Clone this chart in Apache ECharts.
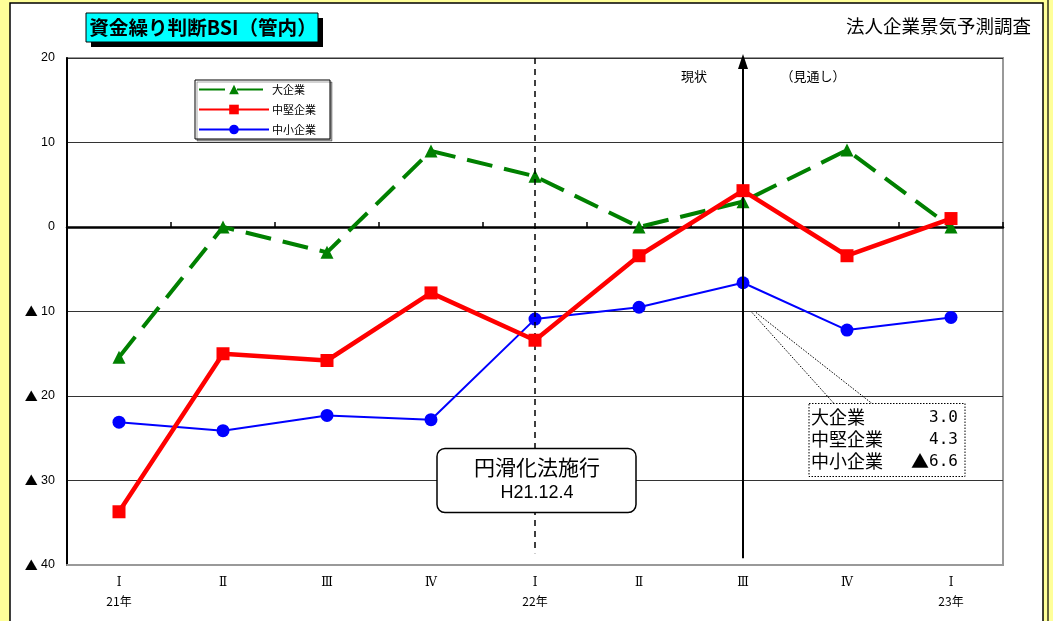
<!DOCTYPE html>
<html>
<head>
<meta charset="utf-8">
<script src="https://cdn.jsdelivr.net/npm/echarts@6/dist/echarts.min.js"></script>
<style>
  html, body { margin: 0; padding: 0; background: #FFFF99; }
  #chart { width: 1053px; height: 621px; }
</style>
</head>
<body>
<div id="chart"></div>
<script>
// Quarters on the x axis (unique keys), with the roman numeral and year shown under each
const categories = ['21-1', '21-2', '21-3', '21-4', '22-1', '22-2', '22-3', '22-4', '23-1'];
const quarterLabels = ['Ⅰ', 'Ⅱ', 'Ⅲ', 'Ⅳ', 'Ⅰ', 'Ⅱ', 'Ⅲ', 'Ⅳ', 'Ⅰ'];
const yearLabels = ['21年', '', '', '', '22年', '', '', '', '23年'];

// BSI values by company size
const largeCorp = [-15.4, 0.0, -3.0, 9.0, 6.0, 0.0, 3.0, 9.1, 0.0];
const midCorp = [-33.7, -15.0, -15.8, -7.8, -13.4, -3.4, 4.3, -3.4, 1.0];
const smallCorp = [-23.1, -24.1, -22.3, -22.8, -10.9, -9.5, -6.6, -12.2, -10.7];

const seriesNames = ['大企業', '中堅企業', '中小企業'];

// Value axis range
const yMin = -40;
const yMax = 20;
const yStep = 10;

// Event marker and current-quarter marker
const eventIndex = 4;
const currentIndex = 6;

const jp = '"Noto Sans CJK JP", sans-serif';
const latin = '"Liberation Sans", "Noto Sans CJK JP", sans-serif';

// Negative values are written with a leading triangle
function bsiRich(v) {
  const s = Math.abs(v).toFixed(1);
  return v < 0 ? '{t|▲}{n|' + s + '}' : '{n|' + s + '}';
}

const chart = echarts.init(document.getElementById('chart'), null, { renderer: 'canvas' });

const option = {
  backgroundColor: '#FFFF99',
  animation: false,
  grid: {
    left: 67, right: 50, top: 58, bottom: 56,
    show: true, backgroundColor: 'transparent',
    borderColor: '#999999', borderWidth: 2
  },
  legend: {
    orient: 'vertical',
    left: 195, top: 80,
    data: seriesNames,
    itemWidth: 70, itemHeight: 12, itemGap: 9,
    padding: [4, 14, 4, 3],
    backgroundColor: '#ffffff',
    borderColor: '#000000', borderWidth: 1,
    shadowColor: 'rgba(0,0,0,0.35)', shadowOffsetX: 2, shadowOffsetY: 2, shadowBlur: 0,
    textStyle: { fontFamily: jp, fontSize: 11, color: '#000', padding: [0, 0, 0, -2] },
    selectedMode: false
  },
  xAxis: [
    {
      type: 'category',
      data: categories,
      boundaryGap: true,
      position: 'bottom',
      axisLine: { onZero: false, lineStyle: { color: '#999999', width: 2 } },
      axisTick: { show: false },
      axisLabel: {
        margin: 8,
        interval: 0,
        formatter: function (v, i) {
          const y = yearLabels[i];
          return '{q|' + quarterLabels[i] + '}' + (y ? '\n{y|' + y + '}' : '');
        },
        rich: {
          q: { fontFamily: '"DejaVu Serif", serif', fontSize: 12, color: '#000', lineHeight: 19 },
          y: { fontFamily: jp, fontSize: 12, color: '#000', lineHeight: 19 }
        }
      },
      splitLine: { show: false }
    },
    {
      // zero line with quarter ticks
      type: 'category',
      data: categories,
      boundaryGap: true,
      position: 'bottom',
      axisLine: { onZero: true, lineStyle: { color: '#000000', width: 2.5 } },
      axisTick: { show: true, inside: true, length: 5, lineStyle: { color: '#000', width: 1.5 } },
      axisLabel: { show: false },
      splitLine: { show: false }
    }
  ],
  yAxis: {
    type: 'value',
    min: yMin, max: yMax, interval: yStep,
    axisLine: { show: true, onZero: false, lineStyle: { color: '#000000', width: 2 } },
    axisTick: { show: false },
    axisLabel: {
      margin: 12,
      color: '#000',
      formatter: function (v) {
        return v < 0 ? '{t|▲} {n|' + Math.abs(v) + '}' : '{n|' + v + '}';
      },
      rich: {
        t: { fontFamily: jp, fontSize: 13, color: '#000' },
        n: { fontFamily: latin, fontSize: 12.5, color: '#000' }
      }
    },
    splitLine: { show: true, lineStyle: { color: '#333333', width: 1 } }
  },
  series: [
    {
      name: seriesNames[0],
      type: 'line',
      data: largeCorp,
      z: 4,
      symbol: 'triangle', symbolSize: 13,
      itemStyle: { color: '#008000' },
      lineStyle: { color: '#008000', width: 4, type: [26, 12] },
      markLine: {
        silent: true,
        symbol: 'none',
        label: { show: false },
        lineStyle: { color: '#000', width: 1.5, type: [6, 5] },
        data: [[
          { coord: [eventIndex, yMax] },
          { coord: [eventIndex, -38.6] }
        ]]
      }
    },
    {
      name: seriesNames[1],
      type: 'line',
      data: midCorp,
      z: 5,
      symbol: 'rect', symbolSize: 13,
      itemStyle: { color: '#FF0000' },
      lineStyle: { color: '#FF0000', width: 4.5 }
    },
    {
      name: seriesNames[2],
      type: 'line',
      data: smallCorp,
      z: 3,
      symbol: 'circle', symbolSize: 13,
      itemStyle: { color: '#0000FF' },
      lineStyle: { color: '#0000FF', width: 2 },
      markLine: {
        silent: true,
        symbol: ['none', 'triangle'],
        symbolSize: [10, 15],
        label: { show: false },
        lineStyle: { color: '#000', width: 2, type: 'solid' },
        itemStyle: { color: '#000' },
        data: [[
          { coord: [currentIndex, -39.2] },
          { coord: [currentIndex, 19.6] }
        ]]
      }
    }
  ]
};

chart.setOption(option);

// Decorations: page panel, title plate, source note, period labels and callouts
const curPt = chart.convertToPixel({ xAxisIndex: 0, yAxisIndex: 0 }, [currentIndex, -10]);
const evtPt = chart.convertToPixel({ xAxisIndex: 0, yAxisIndex: 0 }, [eventIndex, -30]);
const topPt = chart.convertToPixel({ xAxisIndex: 0, yAxisIndex: 0 }, [currentIndex, yMax]);

const boxX = curPt[0] + 66, boxY = curPt[1] + 92, boxW = 156, boxH = 73;
const rows = [
  [seriesNames[0], largeCorp[currentIndex]],
  [seriesNames[1], midCorp[currentIndex]],
  [seriesNames[2], smallCorp[currentIndex]]
];

const graphics = [
  // white page panel
  { type: 'rect', z: -100, silent: true,
    shape: { x: 10, y: 3, width: 1033, height: 640 },
    style: { fill: '#ffffff', stroke: '#000000', lineWidth: 1.5 } },
  { type: 'line', z: -100, silent: true,
    shape: { x1: 1048, y1: 0, x2: 1048, y2: 621 },
    style: { stroke: '#000000', lineWidth: 1.2 } },
  // title plate with drop shadow
  { type: 'rect', z: 10, silent: true,
    shape: { x: 91, y: 18, width: 232, height: 29 },
    style: { fill: '#000000' } },
  { type: 'rect', z: 11, silent: true,
    shape: { x: 86, y: 13, width: 232, height: 29 },
    style: { fill: '#00FFFF', stroke: '#000000', lineWidth: 1 } },
  { type: 'text', z: 12, silent: true,
    style: { x: 203, y: 28, text: '資金繰り判断BSI（管内）', align: 'center', verticalAlign: 'middle',
      font: 'bold 19.6px "Noto Sans CJK JP", sans-serif', fill: '#000' } },
  // survey name
  { type: 'text', z: 12, silent: true,
    style: { x: 1031, y: 26, text: '法人企業景気予測調査', align: 'right', verticalAlign: 'middle',
      font: '18.5px "Noto Sans CJK JP", sans-serif', fill: '#000' } },
  // period labels either side of the current quarter
  { type: 'text', z: 12, silent: true,
    style: { x: topPt[0] - 49, y: topPt[1] + 18, text: '現状', align: 'center', verticalAlign: 'middle',
      font: '13px "Noto Sans CJK JP", sans-serif', fill: '#000' } },
  { type: 'text', z: 12, silent: true,
    style: { x: topPt[0] + 70, y: topPt[1] + 18, text: '（見通し）', align: 'center', verticalAlign: 'middle',
      font: '13px "Noto Sans CJK JP", sans-serif', fill: '#000' } },
  // event box
  { type: 'rect', z: 12, silent: true,
    shape: { x: evtPt[0] - 98, y: evtPt[1] - 32, width: 199, height: 64, r: 8 },
    style: { fill: '#ffffff', stroke: '#000000', lineWidth: 1.5 } },
  { type: 'text', z: 13, silent: true,
    style: { x: evtPt[0] + 2, y: evtPt[1] - 13, text: '円滑化法施行', align: 'center', verticalAlign: 'middle',
      font: '21px "Noto Sans CJK JP", sans-serif', fill: '#000' } },
  { type: 'text', z: 13, silent: true,
    style: { x: evtPt[0] + 2, y: evtPt[1] + 13, text: 'H21.12.4', align: 'center', verticalAlign: 'middle',
      font: '18px "Liberation Sans", sans-serif', fill: '#000' } },
  // current-quarter value callout
  { type: 'line', z: 12, silent: true,
    shape: { x1: curPt[0] + 9, y1: curPt[1] + 1, x2: boxX + 25, y2: boxY },
    style: { stroke: '#000', lineWidth: 1, lineDash: [1.5, 1.5] } },
  { type: 'line', z: 12, silent: true,
    shape: { x1: curPt[0] + 13, y1: curPt[1] + 1, x2: boxX + 63, y2: boxY },
    style: { stroke: '#000', lineWidth: 1, lineDash: [1.5, 1.5] } },
  { type: 'rect', z: 12, silent: true,
    shape: { x: boxX, y: boxY, width: boxW, height: boxH },
    style: { fill: '#ffffff', stroke: '#000000', lineWidth: 1, lineDash: [1.5, 1.5] } }
];

rows.forEach(function (r, i) {
  const cy = boxY + 14 + i * 22;
  graphics.push({ type: 'text', z: 13, silent: true,
    style: { x: boxX + 2, y: cy, text: r[0], align: 'left', verticalAlign: 'middle',
      font: '18px "Noto Sans CJK JP", sans-serif', fill: '#000' } });
  graphics.push({ type: 'text', z: 13, silent: true,
    style: { x: boxX + boxW - 7, y: cy, text: bsiRich(r[1]), align: 'right', verticalAlign: 'middle',
      rich: {
        t: { font: '18px "Noto Sans CJK JP", sans-serif', fill: '#000' },
        n: { font: '16px "DejaVu Sans Mono", monospace', fill: '#000' }
      } } });
});

chart.setOption({ graphic: graphics });
</script>
</body>
</html>
